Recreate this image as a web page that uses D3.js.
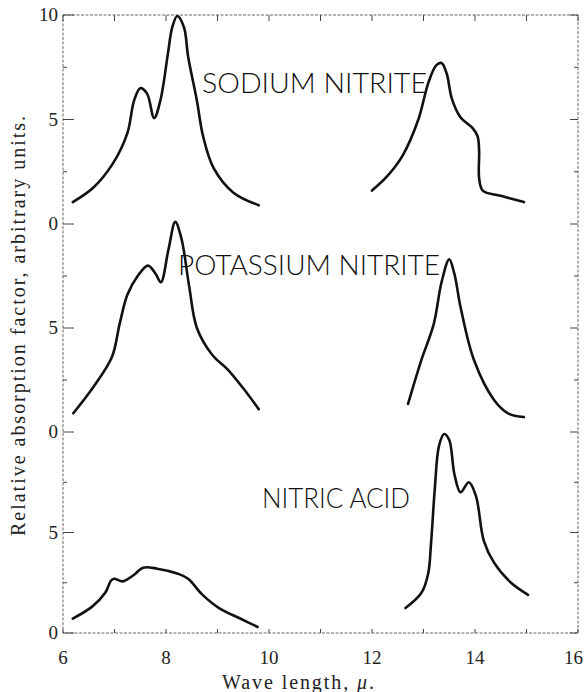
<!DOCTYPE html>
<html>
<head>
<meta charset="utf-8">
<script src="https://cdn.jsdelivr.net/npm/d3@7"></script>
<style>
  body { margin: 0; background: #fff; }
  svg { display: block; }
</style>
</head>
<body>
<svg id="chart" width="584" height="692"></svg>
<script>
// wave length (micron), relative absorption
const sodiumLeft = [
  [6.19, 1.05], [6.58, 1.72], [6.97, 2.9], [7.25, 4.35], [7.38, 5.9], [7.5, 6.5],
  [7.63, 6.25], [7.77, 5.07], [7.89, 5.9], [8.04, 8.2], [8.12, 9.4], [8.22, 9.95],
  [8.35, 9.4], [8.43, 8.0], [8.6, 5.9], [8.72, 4.2], [8.92, 2.7], [9.31, 1.5], [9.8, 0.9]
];
const sodiumRight = [
  [12.0, 1.6], [12.3, 2.3], [12.6, 3.3], [12.9, 5.0], [13.1, 6.8], [13.25, 7.6],
  [13.35, 7.7], [13.45, 7.2], [13.55, 6.0], [13.72, 5.1], [13.95, 4.6], [14.05, 4.2],
  [14.08, 3.5], [14.08, 2.2], [14.15, 1.6], [14.5, 1.35], [14.95, 1.05]
];
const potassiumLeft = [
  [6.2, 0.9], [6.6, 2.2], [6.95, 3.6], [7.1, 5.2], [7.25, 6.6], [7.45, 7.5],
  [7.65, 8.0], [7.8, 7.6], [7.9, 7.2], [8.05, 8.8], [8.18, 10.1], [8.3, 9.3],
  [8.45, 7.0], [8.6, 5.0], [8.9, 3.7], [9.2, 3.0], [9.5, 2.1], [9.8, 1.1]
];
const potassiumRight = [
  [12.7, 1.35], [12.95, 3.4], [13.2, 5.2], [13.35, 7.2], [13.5, 8.3], [13.6, 7.6],
  [13.72, 6.0], [13.98, 3.46], [14.37, 1.54], [14.64, 0.9], [14.95, 0.72]
];
const nitricLeft = [
  [6.19, 0.72], [6.56, 1.3], [6.82, 2.0], [6.93, 2.6], [6.99, 2.7], [7.16, 2.57],
  [7.36, 2.86], [7.56, 3.25], [7.83, 3.2], [8.23, 2.95], [8.43, 2.7], [8.7, 1.92],
  [9.03, 1.24], [9.44, 0.72], [9.78, 0.3]
];
const nitricRight = [
  [12.65, 1.24], [12.96, 2.0], [13.09, 2.95], [13.15, 4.6], [13.22, 7.2], [13.3, 9.3],
  [13.4, 9.9], [13.5, 9.6], [13.6, 7.9], [13.72, 7.0], [13.88, 7.5], [14.02, 6.8],
  [14.17, 4.6], [14.37, 3.5], [14.7, 2.5], [15.03, 1.9]
];

// each panel sits on its own baseline (0, 10, 20 on the shared scale)
const panels = [
  { name: 'SODIUM NITRITE', base: 20, curves: [sodiumLeft, sodiumRight], label: [202, 93, 225] },
  { name: 'POTASSIUM NITRITE', base: 10, curves: [potassiumLeft, potassiumRight], label: [178, 275, 262] },
  { name: 'NITRIC ACID', base: 0, curves: [nitricLeft, nitricRight], label: [262, 508, 148] }
];

const xTicks = d3.range(6, 17, 1);
const xLabels = [6, 8, 10, 12, 14, 16];
const yTicks = d3.range(0, 30.01, 2.5);

const svg = d3.select('#chart');
const m = { left: 63, right: 578, top: 15, bottom: 633 };

const x = d3.scaleLinear().domain([6, 16]).range([m.left, m.right]);
const y = d3.scaleLinear().domain([0, 10, 20, 30]).range([m.bottom, 432, 224, m.top]);

const frame = svg.append('g')
  .attr('stroke', '#666')
  .attr('stroke-width', 1)
  .attr('stroke-dasharray', '3,1.5');

frame.append('rect')
  .attr('x', m.left).attr('y', m.top)
  .attr('width', m.right - m.left).attr('height', m.bottom - m.top)
  .attr('fill', 'none');

// ticks point inward
const tickG = svg.append('g').attr('stroke', '#444').attr('stroke-width', 1);
yTicks.forEach(v => {
  const major = v % 5 === 0;
  tickG.append('line').attr('x1', m.left).attr('x2', m.left + (major ? 11 : 4)).attr('y1', y(v)).attr('y2', y(v));
  tickG.append('line').attr('x1', m.right).attr('x2', m.right - (major ? 8 : 4)).attr('y1', y(v)).attr('y2', y(v));
});
xTicks.forEach(v => {
  tickG.append('line').attr('x1', x(v)).attr('x2', x(v)).attr('y1', m.top).attr('y2', m.top + 6);
  tickG.append('line').attr('x1', x(v)).attr('x2', x(v)).attr('y1', m.bottom).attr('y2', m.bottom - 4);
});

const serif = '"Liberation Serif", "DejaVu Serif", serif';

svg.append('g').selectAll('text')
  .data(yTicks.filter(v => v % 5 === 0))
  .join('text')
  .attr('x', m.left - 5)
  .attr('y', d => y(d) + 6)
  .attr('text-anchor', 'end')
  .attr('font-family', serif)
  .attr('font-size', 19)
  .attr('fill', '#222')
  .text(d => d === 30 ? '10' : String(d % 10));

svg.append('g').selectAll('text')
  .data(xLabels)
  .join('text')
  .attr('x', d => d === 16 ? 583 : x(d))
  .attr('y', 664)
  .attr('text-anchor', d => d === 16 ? 'end' : 'middle')
  .attr('font-family', serif)
  .attr('font-size', 19)
  .attr('fill', '#222')
  .text(d => d);

const xt = svg.append('text')
  .attr('x', 298)
  .attr('y', 689)
  .attr('text-anchor', 'middle')
  .attr('font-family', serif)
  .attr('font-size', 20)
  .attr('fill', '#222')
  .attr('textLength', 152)
  .attr('lengthAdjust', 'spacing');
xt.append('tspan').text('Wave length, ');
xt.append('tspan').attr('font-style', 'italic').text('μ');
xt.append('tspan').text('.');

svg.append('text')
  .attr('transform', 'translate(25,326) rotate(-90)')
  .attr('text-anchor', 'middle')
  .attr('font-family', serif)
  .attr('font-size', 20)
  .attr('fill', '#222')
  .attr('textLength', 420)
  .attr('lengthAdjust', 'spacing')
  .text('Relative absorption factor, arbitrary units.');

const line = d3.line()
  .x(d => x(d[0]))
  .curve(d3.curveCatmullRom.alpha(0.5));

panels.forEach(p => {
  p.curves.forEach(c => {
    svg.append('path')
      .datum(c)
      .attr('fill', 'none')
      .attr('stroke', '#111')
      .attr('stroke-width', 2.6)
      .attr('stroke-linejoin', 'round')
      .attr('stroke-linecap', 'round')
      .attr('d', line.y(d => y(p.base + d[1])));
  });
  svg.append('text')
    .attr('x', p.label[0])
    .attr('y', p.label[1])
    .attr('font-family', 'Lato, "DejaVu Sans", sans-serif')
    .attr('font-weight', 300)
    .attr('font-size', 28)
    .attr('fill', '#111')
    .attr('textLength', p.label[2])
    .attr('lengthAdjust', 'spacingAndGlyphs')
    .text(p.name);
});
</script>
</body>
</html>
